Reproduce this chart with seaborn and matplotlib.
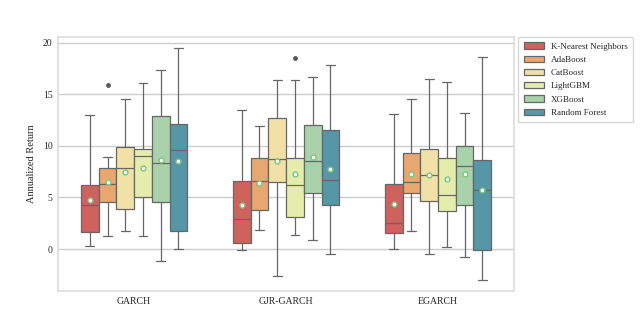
import matplotlib
matplotlib.use("Agg")
import matplotlib.pyplot as plt
import seaborn as sns
import pandas as pd

modele = ["K-Nearest Neighbors", "AdaBoost", "CatBoost", "LightGBM", "XGBoost", "Random Forest"]
specificatii = ["GARCH", "GJR-GARCH", "EGARCH"]

# randamente anualizate (%), cate o lista pe model si specificatie
garch_knn = [0.3, 1.0, 1.65, 3.0, 4.3, 5.5, 6.2, 7.8, 13.0]
garch_ada = [1.26, 1.34, 4.55, 4.55, 6.3, 6.3, 7.85, 7.85, 8.9, 15.9]
garch_cat = [1.75, 2.8, 3.85, 6.0, 7.85, 9.0, 9.85, 11.9, 14.5]
garch_lgbm = [1.25, 2.0, 5.05, 6.2, 9.05, 9.3, 9.7, 12.05, 16.05]
garch_xgb = [-1.15, 1.5, 4.55, 6.5, 8.35, 11.0, 12.85, 16.4, 17.4]
garch_rf = [0.0, 0.9, 1.8, 7.0, 9.6, 11.0, 12.1, 15.1, 19.45]

gjr_knn = [-0.05, 0.3, 0.6, 1.8, 2.9, 4.6, 6.6, 8.0, 13.5]
gjr_ada = [1.85, 2.8, 3.75, 5.0, 6.55, 7.6, 8.85, 9.75, 11.9]
gjr_cat = [-2.6, 3.0, 6.5, 7.5, 8.7, 10.5, 12.7, 14.25, 16.4]
gjr_lgbm = [1.35, 1.35, 3.1, 3.1, 6.2, 6.2, 6.85, 9.45, 16.4, 18.5]
gjr_xgb = [0.85, 3.0, 5.4, 7.0, 8.5, 11.0, 12.0, 15.7, 16.65]
gjr_rf = [-0.5, 1.5, 4.25, 5.5, 6.7, 9.5, 11.5, 13.5, 17.8]

egarch_knn = [0.0, 0.8, 1.55, 2.0, 2.5, 4.5, 6.3, 8.45, 13.05]
egarch_ada = [1.8, 3.5, 5.4, 6.0, 6.5, 8.0, 9.3, 10.7, 14.5]
egarch_cat = [-0.5, 2.0, 4.65, 5.8, 7.15, 8.5, 9.7, 10.55, 16.5]
egarch_lgbm = [0.2, 2.0, 3.7, 4.5, 5.25, 7.5, 8.85, 12.6, 16.15]
egarch_xgb = [-0.8, 2.5, 4.3, 7.0, 8.1, 9.5, 9.95, 11.55, 13.15]
egarch_rf = [-2.95, -1.5, -0.1, 3.5, 5.75, 7.0, 8.6, 12.85, 18.6]

date = {
    "GARCH": [garch_knn, garch_ada, garch_cat, garch_lgbm, garch_xgb, garch_rf],
    "GJR-GARCH": [gjr_knn, gjr_ada, gjr_cat, gjr_lgbm, gjr_xgb, gjr_rf],
    "EGARCH": [egarch_knn, egarch_ada, egarch_cat, egarch_lgbm, egarch_xgb, egarch_rf],
}

randuri = []
for spec in specificatii:
    for model, valori in zip(modele, date[spec]):
        for v in valori:
            randuri.append({"Specificatie": spec, "Model": model, "Annualized Return": v})
df = pd.DataFrame(randuri)

sns.set_theme(style="whitegrid")
plt.rcParams['font.family'] = ['Liberation Serif', 'DejaVu Serif']

fig = plt.figure(figsize=(6.4, 3.12), dpi=100)
ax = fig.add_axes([0.091, 0.067, 0.712, 0.815])
sns.boxplot(
    data=df,
    x="Specificatie",
    y="Annualized Return",
    hue="Model",
    order=specificatii,
    hue_order=modele,
    palette="Spectral",
    width=0.7,
    linewidth=0.9,
    linecolor="0.4",
    showmeans=True,
    meanprops={"marker": "o", "markerfacecolor": "white",
               "markeredgecolor": "#7cc47f", "markersize": 3.5},
    flierprops={"marker": "o", "markersize": 2.5, "markerfacecolor": "0.35",
                "markeredgecolor": "0.35"},
    ax=ax,
)
ax.set_xlabel("")
ax.set_ylabel("Annualized Return", fontsize=7.5, labelpad=5)
ax.tick_params(axis="both", labelsize=7, length=0, pad=4)
ax.set_yticks([0, 5, 10, 15, 20])
for s in ax.spines.values():
    s.set_color("#dddddd")
ax.legend(loc="upper left", bbox_to_anchor=(1.01, 1.0), fontsize=6.5,
          frameon=True, handlelength=2.2, labelspacing=0.55,
          borderpad=0.6, borderaxespad=0)
plt.savefig("out.png", dpi=100)
plt.close()
